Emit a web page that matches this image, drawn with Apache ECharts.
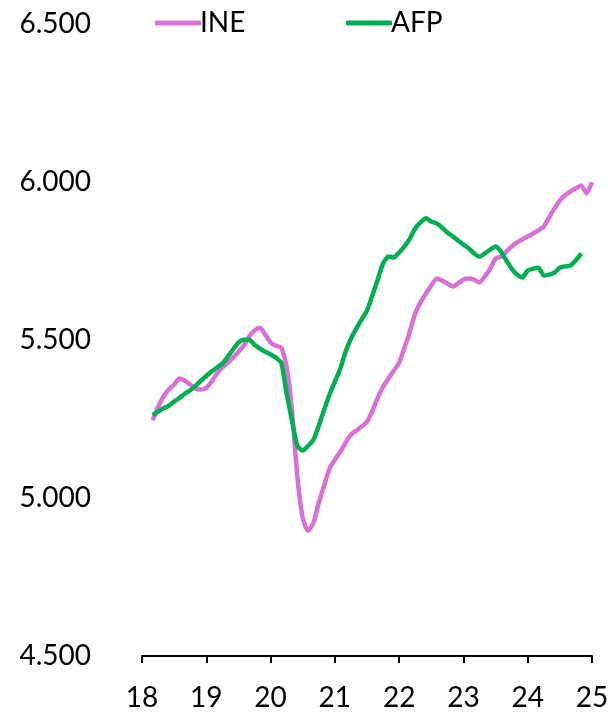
<!DOCTYPE html>
<html>
<head>
<meta charset="utf-8">
<script src="https://cdn.jsdelivr.net/npm/echarts@6/dist/echarts.min.js"></script>
<style>
html,body{margin:0;padding:0;background:#fff;}
#chart{width:612px;height:721px;}
</style>
</head>
<body>
<div id="chart"></div>
<script>
// Monthly data, starting March 2018 (t = 18 + 2/12)
const startMonthIndex = 2;
const ineValues = [5246,5288,5321,5343,5359,5378,5371,5359,5346,5343,5349,5368,5394,5413,5428,5444,5463,5482,5511,5530,5539,5517,5492,5482,5476,5416,5276,5067,4937,4896,4921,4985,5039,5093,5121,5146,5175,5200,5213,5226,5241,5276,5317,5352,5378,5403,5428,5476,5527,5584,5619,5647,5672,5695,5688,5679,5669,5679,5691,5695,5691,5682,5701,5726,5758,5764,5780,5796,5809,5818,5828,5837,5847,5859,5888,5916,5942,5958,5970,5980,5989,5964,5999];
const afpValues = [5262,5273,5284,5292,5305,5317,5330,5341,5355,5371,5386,5400,5413,5425,5447,5470,5492,5501,5501,5485,5473,5463,5454,5444,5428,5330,5245,5165,5150,5165,5184,5229,5279,5327,5368,5409,5463,5504,5536,5565,5593,5641,5691,5742,5764,5761,5777,5796,5821,5853,5872,5885,5875,5869,5856,5840,5828,5815,5802,5790,5774,5764,5774,5786,5796,5780,5752,5726,5707,5698,5720,5726,5729,5704,5707,5713,5729,5733,5736,5752,5774];
const xTicks = [18,19,20,21,22,23,24,25];
const yTicks = [4500,5000,5500,6000,6500];
const seriesNames = ['INE','AFP'];

function toPairs(vals){
  return vals.map((v,i)=>[18 + (startMonthIndex + i)/12, v]);
}
function fmtThousands(v){
  return String(v).replace(/\B(?=(\d{3})+(?!\d))/g,'.');
}

const FONT = 'Lato';
const chart = echarts.init(document.getElementById('chart'), null, {renderer:'canvas'});
chart.setOption({
  animation:false,
  backgroundColor:'#ffffff',
  textStyle:{fontFamily:FONT},
  legend:[
    {data:[seriesNames[0]], left:150, top:4, itemWidth:46, itemHeight:5, itemGap:4,
     icon:'roundRect', textStyle:{fontSize:28, color:'#000', fontFamily:FONT, padding:[0,0,0,-6]}},
    {data:[seriesNames[1]], left:341, top:4, itemWidth:46, itemHeight:5, itemGap:4,
     icon:'roundRect', textStyle:{fontSize:28, color:'#000', fontFamily:FONT, padding:[0,0,0,-6]}}
  ],
  grid:{left:142, right:20, top:24, bottom:65, containLabel:false},
  xAxis:{
    type:'value', min:xTicks[0], max:xTicks[xTicks.length-1], interval:1,
    axisLine:{show:true, lineStyle:{color:'#000', width:2}},
    axisTick:{show:true, inside:false, length:7, lineStyle:{color:'#000', width:2}},
    splitLine:{show:false},
    axisLabel:{fontSize:28, color:'#000', margin:28, fontFamily:FONT,
      formatter:v=> xTicks.includes(v) ? String(v) : ''}
  },
  yAxis:{
    type:'value', min:yTicks[0], max:yTicks[yTicks.length-1], interval:500,
    axisLine:{show:false}, axisTick:{show:false}, splitLine:{show:false},
    axisLabel:{fontSize:28, color:'#000', margin:51, fontFamily:FONT,
      formatter:v=>fmtThousands(v)}
  },
  series:[
    {name:seriesNames[0], type:'line', data:toPairs(ineValues), showSymbol:false, smooth:0.2,
     lineStyle:{color:'#DA70D6', width:4.5}, itemStyle:{color:'#DA70D6'}, z:2},
    {name:seriesNames[1], type:'line', data:toPairs(afpValues), showSymbol:false, smooth:0.2,
     lineStyle:{color:'#00B050', width:4.5}, itemStyle:{color:'#00B050'}, z:3}
  ]
});
</script>
</body>
</html>
